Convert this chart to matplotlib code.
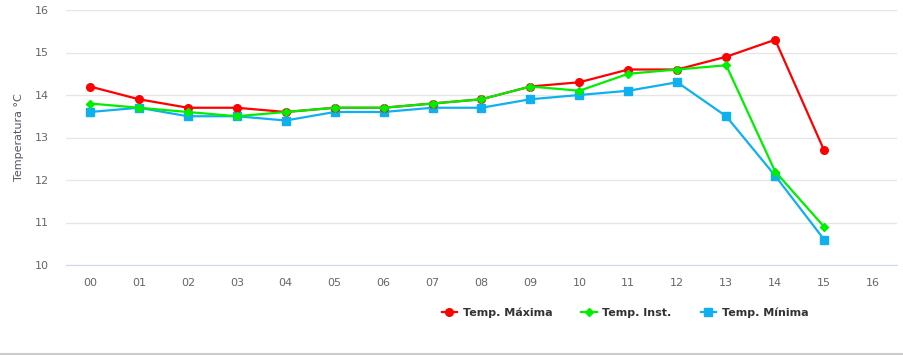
import matplotlib.pyplot as plt
from matplotlib.lines import Line2D

hours = ['00', '01', '02', '03', '04', '05', '06', '07', '08', '09', '10',
         '11', '12', '13', '14', '15', '16']
temp_max = [14.2, 13.9, 13.7, 13.7, 13.6, 13.7, 13.7, 13.8, 13.9, 14.2, 14.3,
            14.6, 14.6, 14.9, 15.3, 12.7]
temp_inst = [13.8, 13.7, 13.6, 13.5, 13.6, 13.7, 13.7, 13.8, 13.9, 14.2, 14.1,
             14.5, 14.6, 14.7, 12.2, 10.9]
temp_min = [13.6, 13.7, 13.5, 13.5, 13.4, 13.6, 13.6, 13.7, 13.7, 13.9, 14.0,
            14.1, 14.3, 13.5, 12.1, 10.6]

RED = '#ff0000'
GREEN = '#00ee00'
BLUE = '#0fb0ef'

W, H = 904, 356
fig = plt.figure(figsize=(W / 100, H / 100), dpi=100)
ax = fig.add_axes([65.5 / W, 1 - 265 / H, (897.5 - 65.5) / W, 255 / H])

x = list(range(len(hours)))
ax.plot(x[:len(temp_max)], temp_max, color=RED, lw=1.6, marker='o', ms=5.5, zorder=3)
ax.plot(x[:len(temp_inst)], temp_inst, color=GREEN, lw=1.6, marker='D', ms=4, zorder=4)
ax.plot(x[:len(temp_min)], temp_min, color=BLUE, lw=1.6, marker='s', ms=5.5, zorder=2)

ax.set_xlim(-0.5, len(hours) - 0.5)
ax.set_ylim(10, 16)
ax.set_xticks(x)
ax.set_xticklabels(hours)
ax.set_yticks(range(10, 17))
ax.grid(axis='y', color='#e6e6e6', lw=1)
ax.set_axisbelow(True)
for s in ['top', 'right', 'left']:
    ax.spines[s].set_visible(False)
ax.spines['bottom'].set_color('#ccd6eb')
ax.tick_params(axis='both', length=0, colors='#666666', labelsize=8)
ax.tick_params(axis='x', pad=9)
ax.tick_params(axis='y', pad=12)
ax.set_ylabel('Temperatura °C', color='#555566', fontsize=8, labelpad=8)

handles = [
    Line2D([], [], color=RED, lw=1.6, marker='o', ms=5.5),
    Line2D([], [], color=GREEN, lw=1.6, marker='D', ms=4),
    Line2D([], [], color=BLUE, lw=1.6, marker='s', ms=5.5),
]
labels = ['Temp. Máxima', 'Temp. Inst.', 'Temp. Mínima']
fig.legend(handles, labels, loc='center', bbox_to_anchor=(625 / W, 1 - 313 / H),
           ncol=3, frameon=False, handlelength=1.4, columnspacing=2.6,
           handletextpad=0.5, prop={'weight': 'bold', 'size': 8},
           labelcolor='#333333')

fig.add_artist(Line2D([0, 1], [1 - 354 / H, 1 - 354 / H], color='#cccccc', lw=1.5,
                      transform=fig.transFigure))

fig.savefig('out.png', dpi=100)
